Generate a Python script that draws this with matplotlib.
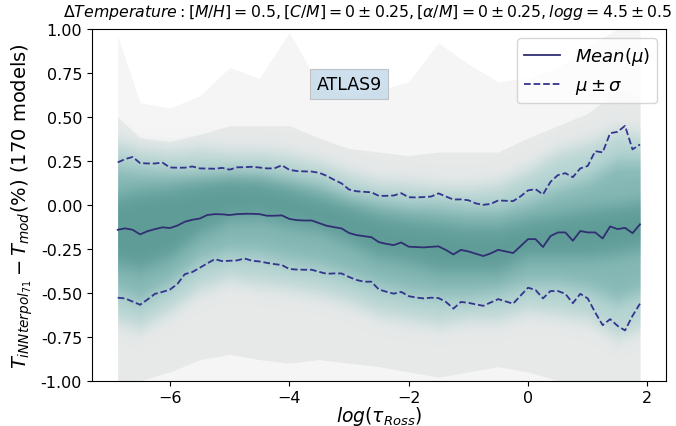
import numpy as np
import matplotlib
matplotlib.use("Agg")
import matplotlib.pyplot as plt
from matplotlib.colors import to_rgb

# ---------------- data ----------------
# optical depth grid (71 depth points)
log_tau = np.arange(-6.875, 1.876, 0.125)

mean_mu = [-0.142, -0.134, -0.142, -0.168, -0.150, -0.138, -0.128, -0.132, -0.118, -0.096,
           -0.085, -0.078, -0.058, -0.053, -0.054, -0.058, -0.053, -0.051, -0.051, -0.053,
           -0.062, -0.062, -0.060, -0.080, -0.087, -0.089, -0.089, -0.104, -0.119, -0.127,
           -0.134, -0.160, -0.172, -0.178, -0.184, -0.212, -0.222, -0.229, -0.214, -0.238,
           -0.240, -0.242, -0.239, -0.236, -0.257, -0.282, -0.256, -0.265, -0.278, -0.291,
           -0.276, -0.256, -0.265, -0.274, -0.235, -0.195, -0.195, -0.240, -0.178, -0.157,
           -0.157, -0.204, -0.149, -0.157, -0.157, -0.191, -0.123, -0.138, -0.131, -0.161,
           -0.111]

mu_plus_sigma = [0.241, 0.260, 0.272, 0.237, 0.235, 0.235, 0.240, 0.212, 0.211, 0.211,
                 0.218, 0.207, 0.206, 0.205, 0.210, 0.200, 0.213, 0.214, 0.216, 0.212,
                 0.207, 0.207, 0.225, 0.199, 0.192, 0.190, 0.189, 0.182, 0.165, 0.142,
                 0.122, 0.087, 0.077, 0.074, 0.071, 0.051, 0.051, 0.053, 0.066, 0.043,
                 0.042, 0.044, 0.047, 0.065, 0.047, 0.030, 0.031, 0.026, 0.008, 0.000,
                 0.005, 0.025, 0.023, 0.021, 0.048, 0.082, 0.089, 0.059, 0.130, 0.169,
                 0.180, 0.157, 0.207, 0.221, 0.305, 0.298, 0.407, 0.415, 0.449, 0.315,
                 0.343]

mu_minus_sigma = [-0.528, -0.532, -0.550, -0.568, -0.538, -0.506, -0.495, -0.482, -0.450, -0.394,
                  -0.382, -0.358, -0.333, -0.309, -0.320, -0.318, -0.316, -0.305, -0.318, -0.322,
                  -0.330, -0.337, -0.342, -0.365, -0.368, -0.369, -0.369, -0.381, -0.392, -0.390,
                  -0.390, -0.410, -0.427, -0.437, -0.437, -0.481, -0.494, -0.505, -0.495, -0.519,
                  -0.527, -0.532, -0.528, -0.530, -0.552, -0.590, -0.552, -0.557, -0.566, -0.574,
                  -0.555, -0.536, -0.549, -0.562, -0.516, -0.471, -0.484, -0.532, -0.490, -0.490,
                  -0.506, -0.559, -0.506, -0.532, -0.612, -0.684, -0.650, -0.688, -0.714, -0.631,
                  -0.562]

# envelopes of the model spread (outer -> inner), on a coarse depth grid
band_tau = [-6.875, -6.5, -6.0, -5.5, -5.0, -4.5, -4.0, -3.5, -3.0, -2.5,
            -2.0, -1.5, -1.0, -0.5, 0.0, 0.5, 1.0, 1.5, 1.875]

band1_hi = [0.96, 0.58, 0.55, 0.62, 0.78, 0.72, 0.98, 0.68, 0.62, 0.65,
            0.70, 0.92, 0.80, 0.70, 0.72, 0.78, 0.90, 1.00, 1.00]
band1_lo = [-1.10] * 19
band2_hi = [0.50, 0.38, 0.36, 0.40, 0.45, 0.45, 0.45, 0.38, 0.32, 0.30,
            0.28, 0.30, 0.30, 0.30, 0.38, 0.45, 0.52, 0.65, 0.62]
band2_lo = [-1.05, -1.00, -0.95, -0.88, -0.85, -0.88, -0.90, -0.88, -0.90, -0.92,
            -0.95, -0.98, -0.95, -0.92, -0.95, -1.00, -1.05, -1.10, -1.10]
band3_hi = [0.36, 0.32, 0.30, 0.32, 0.30, 0.30, 0.28, 0.24, 0.18, 0.13,
            0.12, 0.10, 0.10, 0.12, 0.20, 0.30, 0.35, 0.42, 0.40]
band3_lo = [-0.66, -0.70, -0.60, -0.48, -0.42, -0.45, -0.47, -0.50, -0.55, -0.62,
            -0.65, -0.68, -0.65, -0.65, -0.60, -0.62, -0.65, -0.75, -0.70]
band4_hi = [0.22, 0.20, 0.18, 0.17, 0.17, 0.17, 0.15, 0.12, 0.05, 0.02,
            0.00, 0.00, -0.02, -0.02, 0.03, 0.10, 0.15, 0.25, 0.25]
band4_lo = [-0.50, -0.55, -0.45, -0.32, -0.27, -0.28, -0.32, -0.35, -0.40, -0.46,
            -0.50, -0.52, -0.52, -0.50, -0.45, -0.45, -0.48, -0.55, -0.50]
band5_hi = [0.05, 0.08, 0.10, 0.13, 0.15, 0.14, 0.10, 0.05, 0.00, -0.05,
            -0.08, -0.10, -0.12, -0.12, -0.08, -0.05, -0.02, 0.00, 0.02]
band5_lo = [-0.34, -0.37, -0.30, -0.17, -0.09, -0.08, -0.12, -0.15, -0.22, -0.30,
            -0.33, -0.38, -0.38, -0.38, -0.30, -0.30, -0.30, -0.28, -0.25]

title = (r'$\Delta Temperature: [M/H] = 0.5, [C/M] = 0 \pm 0.25, '
         r'[\alpha/M] = 0 \pm 0.25, logg = 4.5 \pm 0.5$')
ylabel = r'$T_{iNNterpol_{71}} - T_{mod}(\%)$ (170 models)'
xlabel = r'$log(\tau_{Ross})$'
legend_labels = [r'$Mean(\mu)$', r'$\mu \pm \sigma$']
grid_label = 'ATLAS9'


# vertical soft-edge filter for the shaded envelopes (rendering effect only)
class VerticalSoften:
    def __init__(self, color, sigma):
        self.rgb = np.array(to_rgb(color))
        self.sigma = sigma

    def __call__(self, im, dpi):
        s = self.sigma * dpi / 72.0
        r = int(np.ceil(3 * s))
        k = np.exp(-0.5 * (np.arange(-r, r + 1) / s) ** 2)
        k /= k.sum()
        a = np.pad(im[:, :, 3], ((r, r), (0, 0)), mode='constant')
        out_a = np.zeros_like(a)
        for j, w in enumerate(k):
            out_a += w * np.roll(a, j - r, axis=0)
        out = np.zeros((a.shape[0], a.shape[1], 4))
        out[:, :, :3] = self.rgb
        out[:, :, 3] = out_a
        return out, 0, -r


# ---------------- plot ----------------
fig = plt.figure(figsize=(6.76, 4.27), dpi=100)
ax = fig.add_axes([0.1357, 0.106, 0.8494, 0.824])

bands = [(band1_hi, band1_lo, '#f5f5f5', 0),
         (band2_hi, band2_lo, '#e7e9e9', 0),
         (band3_hi, band3_lo, '#b8d6d4', 4.5),
         (band4_hi, band4_lo, '#86b9b6', 4.5),
         (band5_hi, band5_lo, '#5f9c98', 4.5)]
for hi, lo, col, soft in bands:
    poly = ax.fill_between(band_tau, lo, hi, color=col, lw=0, zorder=1)
    if soft > 0:
        poly.set_agg_filter(VerticalSoften(col, soft))

ax.plot(log_tau, mean_mu, color='#2f2f72', lw=1.3, label=legend_labels[0], zorder=3)
ax.plot(log_tau, mu_plus_sigma, color='#34348f', lw=1.3, ls='--', label=legend_labels[1], zorder=3)
ax.plot(log_tau, mu_minus_sigma, color='#34348f', lw=1.3, ls='--', zorder=3)

ax.set_ylim(-1.0, 1.0)
ax.set_xlim(-7.31, 2.31)
ax.set_xticks([-6, -4, -2, 0, 2])
ax.set_yticks([-1.0, -0.75, -0.5, -0.25, 0.0, 0.25, 0.5, 0.75, 1.0])
ax.yaxis.set_major_formatter(matplotlib.ticker.FormatStrFormatter('%.2f'))
ax.tick_params(labelsize=11.5)

ax.set_xlabel(xlabel, fontsize=13.5, labelpad=-1)
ax.set_ylabel(ylabel, fontsize=14, labelpad=4)
ax.set_title(title, fontsize=11.3, x=0.48, pad=9)

ax.text(-3.0, 0.686, grid_label, fontsize=12.5, ha='center', va='center',
        bbox=dict(boxstyle='square,pad=0.35', facecolor='#c6dbea', edgecolor='#bbbbbb',
                  alpha=0.85, lw=0.8), zorder=4)

ax.legend(loc='upper right', fontsize=13, framealpha=0.8)

fig.savefig('out.png', dpi=100)
